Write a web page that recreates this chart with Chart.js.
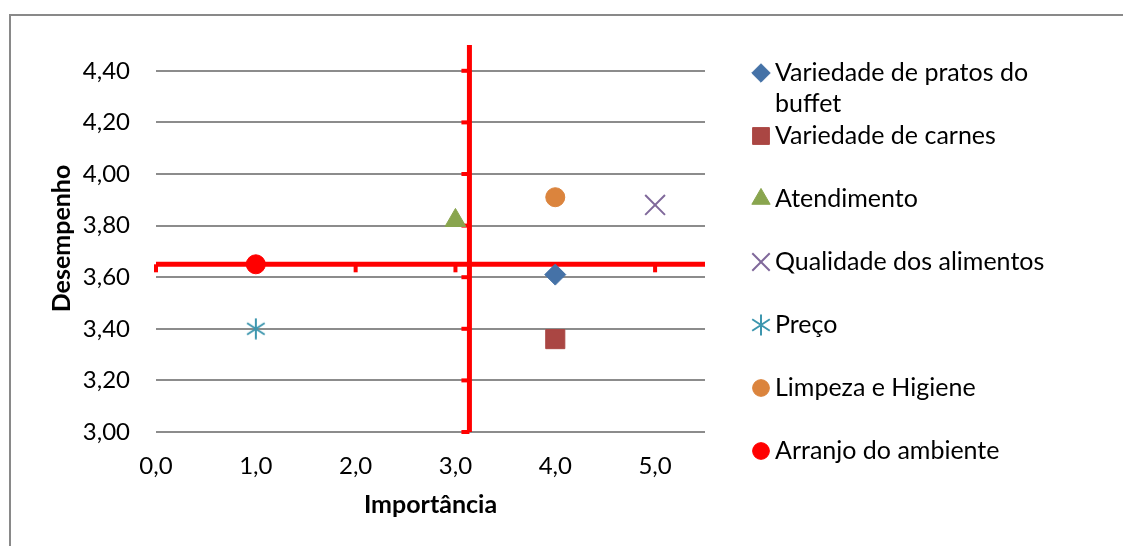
<!DOCTYPE html>
<html>
<head>
<meta charset="utf-8">
<script src="https://cdn.jsdelivr.net/npm/chart.js"></script>
<style>
  html, body { margin: 0; padding: 0; background: #ffffff; }
  #wrap { position: relative; width: 1123px; height: 546px; }
</style>
</head>
<body>
<div id="wrap"><canvas id="c" width="1123" height="546"></canvas></div>
<script>
// ---------------- DATA ----------------
const seriesNames = [
  'Variedade de pratos do buffet',
  'Variedade de carnes',
  'Atendimento',
  'Qualidade dos alimentos',
  'Preço',
  'Limpeza e Higiene',
  'Arranjo do ambiente'
];
const importancia = [4.0, 4.0, 3.0, 5.0, 1.0, 4.0, 1.0];
const desempenho  = [3.61, 3.36, 3.82, 3.88, 3.40, 3.91, 3.65];
const xTickValues = [0, 1, 2, 3, 4, 5];
const yTickValues = [3.0, 3.2, 3.4, 3.6, 3.8, 4.0, 4.2, 4.4];
const xRange = [0, 5.5];
const yRange = [3.0, 4.5];
const refImportancia = 3.14;   // vertical red line
const refDesempenho  = 3.65;   // horizontal red line

// ---------------- STYLES ----------------
const seriesColors = ['#4572A7', '#AA4643', '#89A54E', '#80699B', '#3D96AE', '#DB843D', '#FF0000'];
const FONT = 'Lato';
const RED = '#FF0000';

function makeAsterisk(color, size, lw) {
  const c = document.createElement('canvas');
  c.width = size; c.height = size;
  const g = c.getContext('2d');
  g.strokeStyle = color; g.lineWidth = lw;
  const cx = size / 2, r = size / 2 - 0.5;
  g.beginPath();
  [90, 33, 147].forEach(a => {
    const t = a * Math.PI / 180;
    g.moveTo(cx - r * Math.cos(t), cx - r * Math.sin(t));
    g.lineTo(cx + r * Math.cos(t), cx + r * Math.sin(t));
  });
  g.stroke();
  return c;
}

const markerStyles = [
  { pointStyle: 'rectRot',  radius: 10.5, borderWidth: 1 },
  { pointStyle: 'rect',     radius: 13.5, borderWidth: 1 },
  { pointStyle: 'triangle', radius: 12,   borderWidth: 1 },
  { pointStyle: 'crossRot', radius: 14,   borderWidth: 2 },
  { pointStyle: makeAsterisk(seriesColors[4], 22, 2), radius: 11, borderWidth: 0 },
  { pointStyle: 'circle',   radius: 9.5,  borderWidth: 1 },
  { pointStyle: 'circle',   radius: 9.5,  borderWidth: 1 }
];

const datasets = seriesNames.map((name, i) => ({
  label: name,
  data: [{ x: importancia[i], y: desempenho[i] }],
  showLine: false,
  pointStyle: markerStyles[i].pointStyle,
  pointRadius: markerStyles[i].radius,
  pointHoverRadius: markerStyles[i].radius,
  pointBorderWidth: markerStyles[i].borderWidth,
  borderWidth: markerStyles[i].borderWidth,
  backgroundColor: seriesColors[i],
  borderColor: seriesColors[i],
  order: 0
}));

datasets.push({
  label: 'refH', isRef: true,
  data: [{ x: xRange[0], y: refDesempenho }, { x: xRange[1], y: refDesempenho }],
  showLine: true, borderColor: RED, borderWidth: 5, pointRadius: 0, pointHoverRadius: 0,
  order: 10
});
datasets.push({
  label: 'refV', isRef: true,
  data: [{ x: refImportancia, y: yRange[0] }, { x: refImportancia, y: yRange[1] }],
  showLine: true, borderColor: RED, borderWidth: 5, pointRadius: 0, pointHoverRadius: 0,
  order: 10
});

// ---------------- PLUGINS ----------------
const frame = {
  id: 'frame',
  beforeDraw(chart) {
    const ctx = chart.ctx;
    ctx.save();
    ctx.fillStyle = '#ffffff';
    ctx.fillRect(0, 0, chart.width, chart.height);
    ctx.fillStyle = '#898989';
    ctx.fillRect(9, 14, 2, chart.height);
    ctx.fillRect(9, 14, chart.width, 2);
    ctx.restore();
  }
};

const refTicks = {
  id: 'refTicks',
  beforeDatasetsDraw(chart) {
    const ctx = chart.ctx, xs = chart.scales.x, ys = chart.scales.y;
    const yRef = ys.getPixelForValue(refDesempenho);
    const xRef = xs.getPixelForValue(refImportancia);
    ctx.save();
    ctx.fillStyle = RED;
    xTickValues.forEach(v => {
      const px = xs.getPixelForValue(v);
      ctx.fillRect(px - 2, yRef, 4, 8);
    });
    yTickValues.forEach(v => {
      const py = ys.getPixelForValue(v);
      ctx.fillRect(xRef - 8, py - 2, 8, 4);
    });
    ctx.restore();
  }
};

function wrapText(ctx, text, maxWidth) {
  const words = text.split(' ');
  const lines = [];
  let cur = '';
  words.forEach(w => {
    const t = cur ? cur + ' ' + w : w;
    if (ctx.measureText(t).width > maxWidth && cur) { lines.push(cur); cur = w; }
    else cur = t;
  });
  if (cur) lines.push(cur);
  return lines;
}

const customLegend = {
  id: 'customLegend',
  afterDraw(chart) {
    const ctx = chart.ctx, ca = chart.chartArea;
    const markerX = ca.right + 56, textX = ca.right + 70;
    let y = ca.top + 28;
    const drawPoint = Chart.helpers && Chart.helpers.drawPoint;
    ctx.save();
    chart.data.datasets.filter(d => !d.isRef).forEach(ds => {
      ctx.fillStyle = ds.backgroundColor;
      ctx.strokeStyle = ds.borderColor;
      ctx.lineWidth = ds.borderWidth;
      if (drawPoint) {
        drawPoint(ctx, {
          pointStyle: ds.pointStyle,
          radius: ds.pointRadius * 0.88,
          borderWidth: ds.borderWidth,
          rotation: 0
        }, markerX, y);
      }
      ctx.font = '25px ' + FONT;
      ctx.fillStyle = '#000000';
      ctx.textBaseline = 'middle';
      ctx.textAlign = 'left';
      const lines = wrapText(ctx, ds.label, 295);
      lines.forEach((ln, i) => ctx.fillText(ln, textX, y + i * 31));
      y += 63;
    });
    ctx.restore();
  }
};

// ---------------- CHART ----------------
const fmt = (v, d) => Number(v).toFixed(d).replace('.', ',');

new Chart(document.getElementById('c'), {
  type: 'scatter',
  data: { datasets },
  options: {
    responsive: false,
    animation: false,
    devicePixelRatio: 1,
    layout: { padding: { top: 45, right: 418, left: 0, bottom: 0 } },
    plugins: {
      legend: { display: false },
      tooltip: { enabled: false }
    },
    scales: {
      x: {
        type: 'linear',
        min: xRange[0], max: xRange[1],
        afterBuildTicks: s => { s.ticks = xTickValues.map(v => ({ value: v })); },
        afterFit: s => { s.height = 114; },
        grid: { display: false, drawTicks: false },
        border: { display: false },
        ticks: {
          font: { family: FONT, size: 24 }, color: '#000000', padding: 20,
          maxRotation: 0, autoSkip: false,
          callback: v => fmt(v, 1)
        },
        title: {
          display: true, text: 'Importância', color: '#000000',
          font: { family: FONT, size: 25, weight: 'bold' },
          padding: { top: 0, bottom: 26 }
        }
      },
      y: {
        type: 'linear',
        min: yRange[0], max: yRange[1],
        afterBuildTicks: s => { s.ticks = yTickValues.map(v => ({ value: v })); },
        afterFit: s => { s.width = 156; },
        grid: { color: '#8c8c8c', lineWidth: 2, drawTicks: false },
        border: { display: false },
        ticks: {
          font: { family: FONT, size: 24 }, color: '#000000', padding: 26,
          autoSkip: false,
          callback: v => fmt(v, 2)
        },
        title: {
          display: true, text: 'Desempenho', color: '#000000',
          font: { family: FONT, size: 25, weight: 'bold' },
          padding: { top: 47, bottom: 0 }
        }
      }
    }
  },
  plugins: [frame, refTicks, customLegend]
});
</script>
</body>
</html>
